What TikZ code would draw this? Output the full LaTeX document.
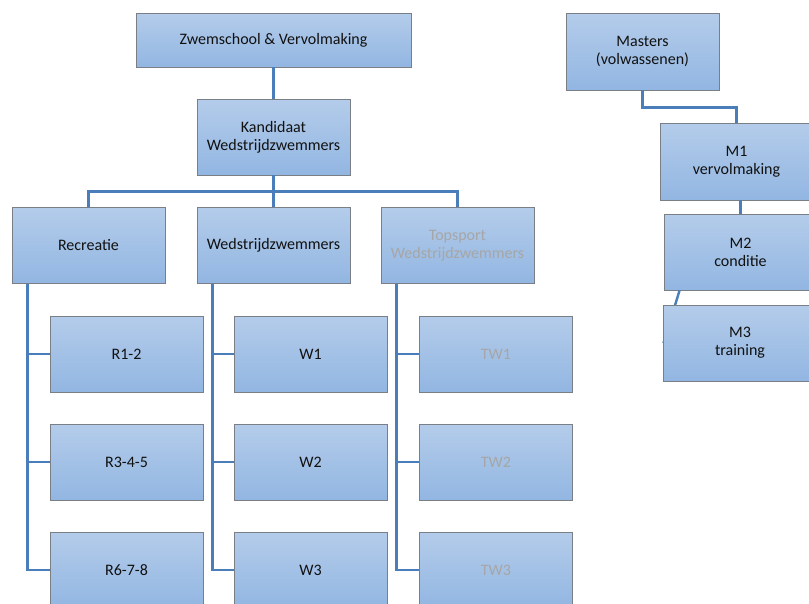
\documentclass[tikz,border=0pt]{standalone}
\usepackage{fontspec}
\setmainfont{Carlito}
\definecolor{boxtop}{HTML}{B4CCEA}
\definecolor{boxbot}{HTML}{92B6E2}
\definecolor{boxline}{HTML}{7A7F86}
\definecolor{conn}{HTML}{4A7EBB}
\definecolor{greytext}{HTML}{A6A6A6}
\definecolor{darktext}{HTML}{111111}
\tikzset{
  orgbox/.style={rectangle, draw=boxline, line width=0.9pt, top color=boxtop, bottom color=boxbot,
    minimum width=153pt, minimum height=76pt, inner sep=0pt, align=center,
    text=darktext, font=\fontsize{16}{18}\selectfont},
  faded/.style={text=greytext},
  link/.style={draw=conn, line width=2.4pt}
}
\begin{document}
\begin{tikzpicture}[x=1pt,y=-1pt]
\useasboundingbox (0,0) rectangle (809,603);
% top
\node[orgbox, minimum width=275pt, minimum height=54pt] (top) at (273.5,40) {Zwemschool \& Vervolmaking};
\node[orgbox] (kand) at (273.5,137) {Kandidaat\\Wedstrijdzwemmers};
\node[orgbox] (rec) at (88.5,245.5) {Recreatie};
\node[orgbox] (wed) at (273.5,245.5) {Wedstrijdzwemmers};
\node[orgbox, faded] (top2) at (457.5,245.5) {Topsport\\Wedstrijdzwemmers};
% children
\node[orgbox] (r1) at (126.5,354) {R1-2};
\node[orgbox] (r2) at (126.5,462) {R3-4-5};
\node[orgbox] (r3) at (126.5,570) {R6-7-8};
\node[orgbox] (w1) at (310.5,354) {W1};
\node[orgbox] (w2) at (310.5,462) {W2};
\node[orgbox] (w3) at (310.5,570) {W3};
\node[orgbox, faded] (t1) at (496,354) {TW1};
\node[orgbox, faded] (t2) at (496,462) {TW2};
\node[orgbox, faded] (t3) at (496,570) {TW3};
% masters
\node[orgbox, minimum height=77pt] (mas) at (642.5,51.5) {Masters\\(volwassenen)};
\node[orgbox, minimum height=77pt] (m1) at (736.5,161.5) {M1\\vervolmaking};
\node[orgbox] (m2) at (740.5,252) {M2\\conditie};
% connectors
\draw[link] (top.south) -- (kand.north);
\coordinate (bus) at ([yshift=-16pt]kand.south);
\draw[link] (kand.south) -- (bus);
\draw[link] (bus) -| (rec.north);
\draw[link] (bus) -- (wed.north);
\draw[link] (bus) -| (top2.north);
\draw[link] ([xshift=16pt]rec.south west) |- (r1.west);
\draw[link] ([xshift=16pt]rec.south west) |- (r2.west);
\draw[link] ([xshift=16pt]rec.south west) |- (r3.west);
\draw[link] ([xshift=16pt]wed.south west) |- (w1.west);
\draw[link] ([xshift=16pt]wed.south west) |- (w2.west);
\draw[link] ([xshift=16pt]wed.south west) |- (w3.west);
\draw[link] ([xshift=16pt]top2.south west) |- (t1.west);
\draw[link] ([xshift=16pt]top2.south west) |- (t2.west);
\draw[link] ([xshift=16pt]top2.south west) |- (t3.west);
\coordinate (mbend) at ([yshift=-17pt]mas.south);
\draw[link] (mas.south) -- (mbend) -| (m1.north);
\draw[link] (m1.south -| m2.north) -- (m2.north);
\coordinate (m3w) at (663.5,343);
\draw[link] ([xshift=16pt]m2.south west) -- (m3w);
\node[orgbox] (m3) at (740,343) {M3\\training};
\end{tikzpicture}
\end{document}
